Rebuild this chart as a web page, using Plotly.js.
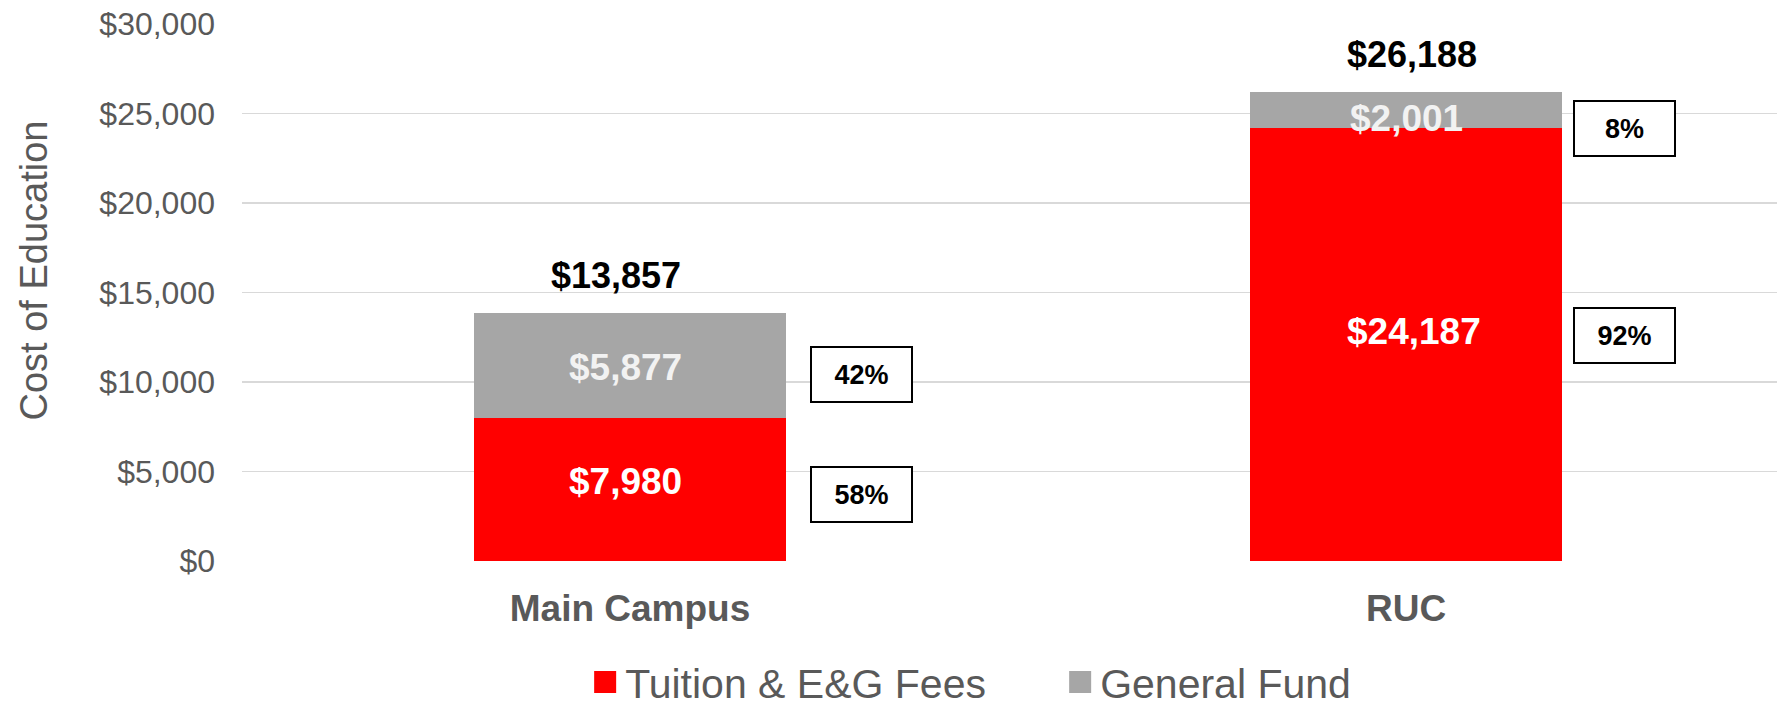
<!DOCTYPE html>
<html><head><meta charset="utf-8">
<script src="https://cdn.plot.ly/plotly-3.0.1.min.js"></script>
<style>html,body{margin:0;padding:0;background:#fff;overflow:hidden;} #chart{width:1777px;height:708px;}</style>
</head><body><div id="chart"></div>
<script>
// ---- data ----
const categories = ['Main Campus', 'RUC'];
const tuitionFees = [7980, 24187];
const generalFund = [5877, 2001];
const totals = [13857, 26188];
const tuitionShare = ['58%', '92%'];
const generalShare = ['42%', '8%'];
const seriesNames = ['Tuition & E&G Fees', 'General Fund'];
const yTickVals = [0, 5000, 10000, 15000, 20000, 25000, 30000];
const yTickText = ['$0', '$5,000', '$10,000', '$15,000', '$20,000', '$25,000', '$30,000'];
const yTitle = 'Cost of Education';

// ---- styles ----
const RED = '#ff0000', GRAY = '#a6a6a6', AXIS_TXT = '#595959';
const FONT = 'Liberation Sans, Arial, sans-serif';
const fmt = v => '$' + v.toLocaleString('en-US');

const traces = [
  {type: 'bar', x: categories, y: tuitionFees, name: seriesNames[0],
   marker: {color: RED}, hoverinfo: 'none'},
  {type: 'bar', x: categories, y: generalFund, name: seriesNames[1],
   marker: {color: GRAY}, hoverinfo: 'none'}
];

const annotations = [];
// fine offsets (px) for label placement
const totalXShift = [-14, 6];
const segXShift = [-5, 8];
const tuitionLblShift = [8, 13];
const generalLblShift = [-2, -8];
const boxXShift = [231, 218];
const tuitionBoxShift = [-5, 9];
const generalBoxShift = [-9, -18];

categories.forEach((c, i) => {
  annotations.push({x: c, y: totals[i], xref: 'x', yref: 'y', yanchor: 'bottom',
    text: fmt(totals[i]), showarrow: false, yshift: 15, xshift: totalXShift[i],
    font: {family: FONT, size: 36, color: '#000000', weight: 'bold'}});
  annotations.push({x: c, y: tuitionFees[i] / 2, xref: 'x', yref: 'y',
    text: fmt(tuitionFees[i]), showarrow: false, yshift: tuitionLblShift[i], xshift: segXShift[i],
    font: {family: FONT, size: 37, color: '#ffffff', weight: 'bold'}});
  annotations.push({x: c, y: tuitionFees[i] + generalFund[i] / 2, xref: 'x', yref: 'y',
    text: fmt(generalFund[i]), showarrow: false, yshift: generalLblShift[i], xshift: i === 0 ? segXShift[i] : 0,
    font: {family: FONT, size: 37, color: '#f2f2f2', weight: 'bold'}});
  annotations.push({x: c, y: tuitionFees[i] / 2, xref: 'x', yref: 'y',
    text: tuitionShare[i], showarrow: false, xshift: boxXShift[i], yshift: tuitionBoxShift[i],
    bordercolor: '#000000', borderwidth: 2, borderpad: 0, bgcolor: '#ffffff',
    width: 99, height: 53,
    font: {family: FONT, size: 27, color: '#000000', weight: 'bold'}});
  annotations.push({x: c, y: tuitionFees[i] + generalFund[i] / 2, xref: 'x', yref: 'y',
    text: generalShare[i], showarrow: false, xshift: boxXShift[i], yshift: generalBoxShift[i],
    bordercolor: '#000000', borderwidth: 2, borderpad: 0, bgcolor: '#ffffff',
    width: 99, height: 53,
    font: {family: FONT, size: 27, color: '#000000', weight: 'bold'}});
});

// y-axis title, placed left of the tick labels
annotations.push({x: 0, y: 0.541, xref: 'paper', yref: 'paper', xanchor: 'center', yanchor: 'middle',
  xshift: -208, textangle: -90, text: yTitle, showarrow: false,
  font: {family: FONT, size: 38, color: AXIS_TXT}});

const layout = {
  width: 1777, height: 708,
  margin: {l: 241.7, r: 0, t: 24.3, b: 147, pad: 0, autoexpand: false},
  paper_bgcolor: '#ffffff', plot_bgcolor: '#ffffff',
  font: {family: FONT, color: AXIS_TXT},
  barmode: 'stack', bargap: 0.598,
  showlegend: true,
  legend: {orientation: 'h', x: 0.533, xanchor: 'center', y: -0.226, yanchor: 'middle',
    traceorder: 'normal', font: {family: FONT, size: 41, color: AXIS_TXT},
    entrywidth: 430, bgcolor: 'rgba(0,0,0,0)'},
  xaxis: {type: 'category', range: [-0.5, 1.478], showgrid: false, zeroline: false,
    showline: false, ticks: '', ticklabelstandoff: 22, automargin: false,
    tickfont: {family: FONT, size: 37, color: AXIS_TXT, weight: 'bold'}, fixedrange: true},
  yaxis: {range: [0, 30000], tickvals: yTickVals, ticktext: yTickText,
    showgrid: true, gridcolor: '#d9d9d9', gridwidth: 1.5, zeroline: false, showline: false,
    ticks: '', ticklabelstandoff: 26, automargin: false,
    tickfont: {family: FONT, size: 32, color: AXIS_TXT},
    fixedrange: true},
  annotations: annotations
};

Plotly.newPlot('chart', traces, layout, {displayModeBar: false, staticPlot: true}).then(gd => {
  gd.querySelectorAll('.legend .legendpoints path').forEach(p => {
    p.setAttribute('d', 'M11,11H-11V-11H11Z');
  });
});
</script>
</body></html>
